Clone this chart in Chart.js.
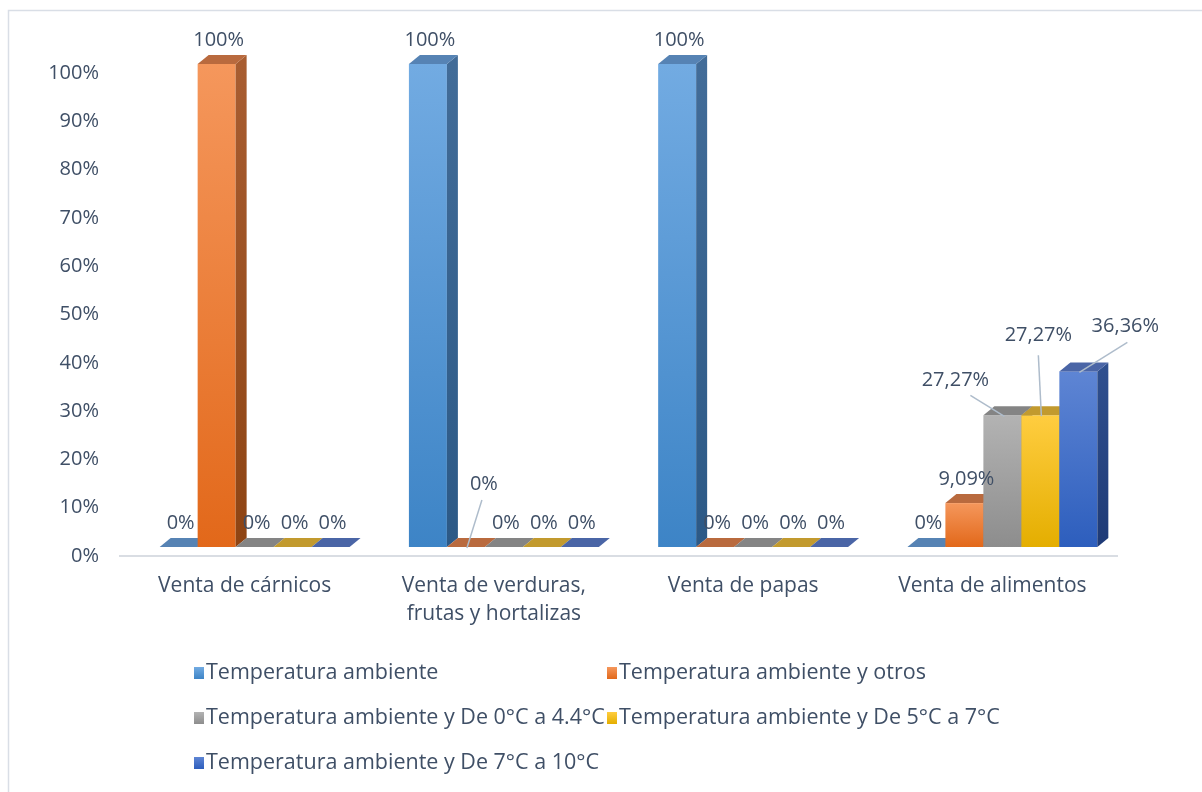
<!DOCTYPE html>
<html><head><meta charset="utf-8">
<script src="https://cdn.jsdelivr.net/npm/chart.js@4.4.1/dist/chart.umd.min.js"></script>
<style>html,body{margin:0;padding:0;background:#fff}#c{display:block}</style>
</head><body>
<canvas id="c" width="1202" height="792"></canvas>
<script>
// ---- data ----
const categories = [["Venta de cárnicos"], ["Venta de verduras,", "frutas y hortalizas"], ["Venta de papas"], ["Venta de alimentos"]];
const seriesNames = [
  "Temperatura ambiente",
  "Temperatura ambiente y otros",
  "Temperatura ambiente y De 0°C a 4.4°C",
  "Temperatura ambiente y De 5°C a 7°C",
  "Temperatura ambiente y De 7°C a 10°C"
];
const tempAmbiente = [0, 100, 100, 0];
const tempOtros    = [100, 0, 0, 9.09];
const temp0a44     = [0, 0, 0, 27.27];
const temp5a7      = [0, 0, 0, 27.27];
const temp7a10     = [0, 0, 0, 36.36];
const yTickValues  = [0, 10, 20, 30, 40, 50, 60, 70, 80, 90, 100];

// ---- styles ----
const palette = [
  {top:'#72abe2', bot:'#3d84c6', sideT:'#426c98', sideB:'#2c5986', cap:'#5683b4'},
  {top:'#f5975c', bot:'#e2681a', sideT:'#a85d31', sideB:'#8e4413', cap:'#b96a3e'},
  {top:'#b3b3b3', bot:'#8d8d8d', sideT:'#747474', sideB:'#606060', cap:'#848484'},
  {top:'#ffcd40', bot:'#e4ae00', sideT:'#a9841a', sideB:'#94700a', cap:'#c29a2e'},
  {top:'#5e85d4', bot:'#2d5ebd', sideT:'#2f4f8e', sideB:'#1e3a76', cap:'#4a65a6'}
];
const TEXT = '#3f4f66';
const FONT = '"Open Sans", "Liberation Sans", sans-serif';
const DX = 10, DEPTH_X = 11, DEPTH_Y = 9, LIFT = 9;
// label tweaks for callout labels: key "ds-idx" -> [dx, dy, leader]
const labelTweaks = {
  '1-1': [18, -63, true],
  '2-3': [-47, -35, true],
  '3-3': [-2, -80, true],
  '4-3': [47, -45, true]
};

function fmt(v){
  if (Number.isInteger(v)) return v + '%';
  return v.toFixed(2).replace('.', ',') + '%';
}

const bars3d = {
  id: 'bars3d',
  afterDatasetsDraw(chart){
    const ctx = chart.ctx;
    ctx.save();
    chart.data.datasets.forEach((ds, di) => {
      const meta = chart.getDatasetMeta(di);
      const p = palette[di];
      meta.data.forEach((el) => {
        const x0 = el.x - el.width/2 + DX, x1 = x0 + el.width;
        const yT = el.y - LIFT, yB = el.base - LIFT;
        const h = yB - yT;
        if (h > 0.5) {
          const g = ctx.createLinearGradient(0, yT, 0, yB);
          g.addColorStop(0, p.top); g.addColorStop(1, p.bot);
          ctx.fillStyle = g;
          ctx.fillRect(x0, yT, x1 - x0, h);
          const gs = ctx.createLinearGradient(0, yT, 0, yB);
          gs.addColorStop(0, p.sideT); gs.addColorStop(1, p.sideB);
          ctx.fillStyle = gs;
          ctx.beginPath();
          ctx.moveTo(x1, yT); ctx.lineTo(x1 + DEPTH_X, yT - DEPTH_Y);
          ctx.lineTo(x1 + DEPTH_X, yB - DEPTH_Y); ctx.lineTo(x1, yB); ctx.closePath(); ctx.fill();
        }
        ctx.fillStyle = p.cap;
        ctx.beginPath();
        ctx.moveTo(x0, yT); ctx.lineTo(x0 + DEPTH_X, yT - DEPTH_Y);
        ctx.lineTo(x1 + DEPTH_X, yT - DEPTH_Y); ctx.lineTo(x1, yT); ctx.closePath(); ctx.fill();
      });
    });
    // data labels
    ctx.font = '20px ' + FONT;
    ctx.textAlign = 'center';
    ctx.textBaseline = 'middle';
    chart.data.datasets.forEach((ds, di) => {
      const meta = chart.getDatasetMeta(di);
      meta.data.forEach((el, i) => {
        const cx = el.x + DX;
        const yT = el.y - LIFT;
        const t = labelTweaks[di + '-' + i];
        let lx = cx + 2, ly = yT - 24;
        if (t) {
          lx = cx + t[0]; ly = yT + t[1];
          ctx.strokeStyle = '#aebccb'; ctx.lineWidth = 1.5;
          ctx.beginPath();
          let ex, ey;
          if (di === 1) { ex = lx - 2; ey = ly + 16; }
          else if (di === 2) { ex = lx + 15; ey = ly + 15; }
          else if (di === 3) { ex = lx; ey = ly + 20; }
          else { ex = lx + 2; ey = ly + 16; }
          ctx.moveTo(cx + (di===2? 2 : 1), yT + 1); ctx.lineTo(ex, ey); ctx.stroke();
        }
        ctx.fillStyle = TEXT;
        ctx.fillText(fmt(ds.data[i]), lx, ly);
      });
    });
    ctx.restore();
  },
  afterDraw(chart){
    const ctx = chart.ctx;
    ctx.save();
    // outer border
    ctx.strokeStyle = '#d9dee6'; ctx.lineWidth = 1.5;
    ctx.beginPath(); ctx.moveTo(8.5, 800); ctx.lineTo(8.5, 10.5); ctx.lineTo(1210, 10.5); ctx.stroke();
    // legend
    const cols = [194, 607], rows = [673, 718, 763];
    ctx.font = '21.5px ' + FONT;
    ctx.textAlign = 'left'; ctx.textBaseline = 'middle';
    seriesNames.forEach((name, i) => {
      const x = cols[i % 2], y = rows[Math.floor(i / 2)];
      const p = palette[i];
      const g = ctx.createLinearGradient(0, y - 6, 0, y + 6);
      g.addColorStop(0, p.top); g.addColorStop(1, p.bot);
      ctx.fillStyle = g;
      ctx.fillRect(x, y - 6, 10, 12);
      ctx.fillStyle = TEXT;
      ctx.fillText(name, x + 12, y);
    });
    ctx.restore();
  }
};

const datasets = [tempAmbiente, tempOtros, temp0a44, temp5a7, temp7a10].map((d, i) => ({
  label: seriesNames[i], data: d,
  backgroundColor: 'rgba(0,0,0,0)', borderWidth: 0,
  categoryPercentage: 0.762, barPercentage: 1.0
}));

new Chart(document.getElementById('c'), {
  type: 'bar',
  data: { labels: categories, datasets },
  plugins: [bars3d],
  options: {
    responsive: false, animation: false,
    layout: { padding: { left: 0, right: 85, top: 73, bottom: 0 } },
    plugins: { legend: { display: false }, tooltip: { enabled: false } },
    scales: {
      x: {
        grid: { display: false, drawTicks: false },
        border: { display: true, color: '#d9dde3', width: 2 },
        ticks: { color: TEXT, font: { family: FONT, size: 21, lineHeight: 1.33 }, padding: 16, maxRotation: 0, autoSkip: false },
        afterFit(s){ s.height = 236; }
      },
      y: {
        min: 0, max: 100,
        afterBuildTicks(s){ s.ticks = yTickValues.map(v => ({ value: v })); },
        grid: { display: false, drawTicks: false },
        border: { display: false },
        ticks: { color: TEXT, font: { family: FONT, size: 20 }, padding: 21, callback: v => v + '%' },
        afterFit(s){ s.width = 120; }
      }
    }
  }
});
</script>
</body></html>
